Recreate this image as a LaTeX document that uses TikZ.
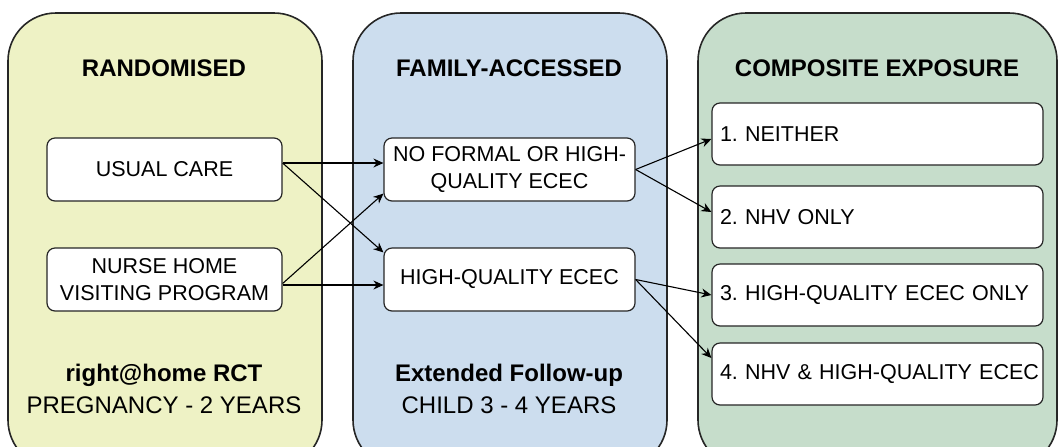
\documentclass[tikz,border=0pt]{standalone}
\usepackage{fontspec}
\setmainfont{Liberation Sans}
\usetikzlibrary{arrows.meta}
\definecolor{randfill}{HTML}{EEF2C5}
\definecolor{famfill}{HTML}{CCDDEE}
\definecolor{compfill}{HTML}{C6DDCB}
\frenchspacing
\tikzset{
	panel/.style={draw=black!85, line width=0.8pt, rounded corners=24pt},
	optbox/.style={draw=black!85, fill=white, line width=0.6pt, rounded corners=4pt, align=center, inner sep=0pt, minimum height=31.5pt, font=\fontsize{10.75}{13.4}\selectfont},
	expbox/.style={optbox, align=left, inner xsep=4pt, text width=157.5pt, minimum height=31pt},
	paneltitle/.style={anchor=base, font=\fontsize{12}{15}\selectfont\bfseries},
	panelfoot/.style={anchor=base, font=\fontsize{12}{15}\selectfont},
	link/.style={-{Stealth[length=5pt,width=4.5pt]}, line width=0.55pt},
}

\begin{document}
\begin{tikzpicture}[x=0.5pt, y=-0.5pt]
			%%%%% START %%%%%
			\useasboundingbox (0, 0) rectangle (1058, 446);
			\clip (0, 0) rectangle (1058, 446);
			
			\draw[panel, fill=randfill] (8, 13) rectangle (322, 468);
			\draw[panel, fill=famfill] (353, 13) rectangle (667, 468);
			\draw[panel, fill=compfill] (698, 13) rectangle (1057, 468);
			
			\node[paneltitle] (randtitle) at (164, 76) {RANDOMISED};
			\node[paneltitle] (famtitle) at (509, 76) {FAMILY-ACCESSED};
			\node[paneltitle] (comptitle) at (877, 76) {COMPOSITE EXPOSURE};
			
			\node[optbox, minimum width=117.5pt] (usual) at (164.5, 169.5) {USUAL CARE};
			\node[optbox, minimum width=117.5pt] (nurse) at (164.5, 279.5) {NURSE HOME\\VISITING PROGRAM};
			
			\node[optbox, minimum width=125.5pt] (noformal) at (509.5, 169.5) {NO FORMAL OR HIGH-\\QUALITY ECEC};
			\node[optbox, minimum width=125.5pt] (hq) at (509.5, 279.5) {HIGH-QUALITY ECEC};
			
			\node[expbox] (neither) at (877.5, 134) {1. NEITHER};
			\node[expbox] (nhvonly) at (877.5, 217) {2. NHV ONLY};
			\node[expbox] (hqonly) at (877.5, 295) {\mbox{3. HIGH-QUALITY ECEC ONLY}};
			\node[expbox] (both) at (877.5, 374) {\mbox{4. NHV \& HIGH-QUALITY ECEC}};
			
			\node[panelfoot, font=\fontsize{12}{15}\selectfont\bfseries] (rct) at (164, 381) {right@home RCT};
			\node[panelfoot] (rctspan) at (164, 413) {PREGNANCY - 2 YEARS};
			\node[panelfoot, font=\fontsize{12}{15}\selectfont\bfseries] (follow) at (509, 381) {Extended Follow-up};
			\node[panelfoot] (followspan) at (509, 413) {CHILD 3 - 4 YEARS};
			
			% randomised -> family-accessed
			\draw[link] ([yshift=3.25pt]usual.east) -- ([yshift=3.25pt]noformal.west);
			\draw[link] ([yshift=3.25pt]usual.east) -- ([yshift=-2.5pt]hq.north west);
			\draw[link] ([yshift=-2pt]nurse.east) -- ([yshift=4pt]noformal.south west);
			\draw[link] ([yshift=-2.75pt]nurse.east) -- ([yshift=-2.75pt]hq.west);
			
			% family-accessed -> composite
			\draw[link] (noformal.east) -- ([yshift=-2.5pt]neither.west);
			\draw[link] (noformal.east) -- ([yshift=2.5pt]nhvonly.west);
			\draw[link] (hq.east) -- (hqonly.west);
			\draw[link] (hq.east) -- ([yshift=8pt]both.west);
			
			%%%%% END %%%%%
		\end{tikzpicture}
\end{document}
